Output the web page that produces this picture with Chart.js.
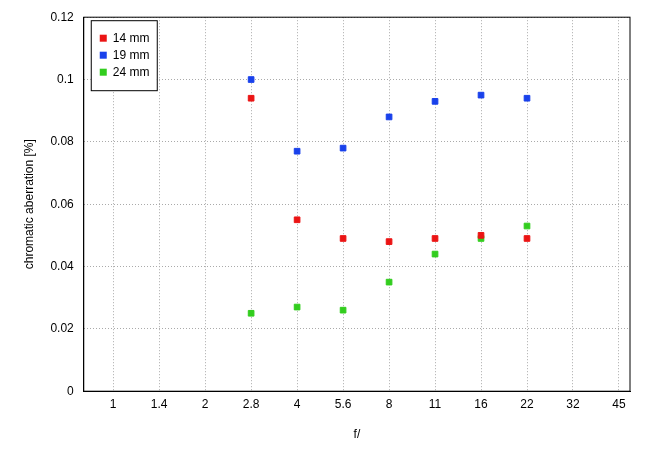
<!DOCTYPE html>
<html><head><script src="https://cdn.jsdelivr.net/npm/chart.js@4"></script>
<style>body{margin:0;background:#fff}#w{width:650px;height:450px}</style></head>
<body><div id="w"><canvas id="c"></canvas></div>
<script>
const categories=["1","1.4","2","2.8","4","5.6","8","11","16","22","32","45"];
const used=[3,4,5,6,7,8,9];
const s14=[0.094,0.055,0.049,0.048,0.049,0.050,0.049];
const s19=[0.100,0.077,0.078,0.088,0.093,0.095,0.094];
const s24=[0.025,0.027,0.026,0.035,0.044,0.049,0.053];
const names=["14 mm","19 mm","24 mm"];
const colors=["rgb(235,20,20)","rgb(25,65,235)","rgb(50,205,30)"];
const mk=v=>v.map((y,i)=>({x:used[i],y}));
const font={family:"Liberation Sans, Arial, sans-serif",size:12};
const legendPlugin={id:'lg',afterDraw(ch){const c=ch.ctx,a=ch.chartArea;c.save();
 const x=a.left+7,y=a.top+3;c.fillStyle='#fff';c.fillRect(x,y,66,70);c.strokeStyle='#000';c.lineWidth=1;c.strokeRect(x+.5,y+.5,66,70);
 c.font="12px Liberation Sans, Arial";c.textBaseline='middle';
 ch.data.datasets.forEach((d,i)=>{const yy=y+18+i*17;c.fillStyle=d.backgroundColor;c.fillRect(x+9,yy-3.5,7,7);c.fillStyle='#000';c.fillText(d.label,x+22,yy);});
 c.restore();}};
new Chart(document.getElementById('c'),{type:'scatter',
data:{datasets:[0,1,2].map(i=>({label:names[i],data:mk([s14,s19,s24][i]),backgroundColor:colors[i],borderColor:colors[i],pointStyle:'rect',pointRadius:4,pointHoverRadius:4}))},
options:{animation:false,responsive:true,maintainAspectRatio:false,
layout:{padding:{top:15,right:20,left:18,bottom:4}},
plugins:{legend:{display:false},tooltip:{enabled:false}},
scales:{
x:{type:'linear',min:-0.64,max:11.24,
 afterBuildTicks(ax){ax.ticks=categories.map((_,i)=>({value:i}));},
 ticks:{font,color:'#000',padding:6,callback:v=>categories[v]},
 grid:{color:'#aaa',drawTicks:false},
 border:{color:'#000',display:true,dash:[1,2]},
 title:{display:true,text:'f/',font,color:'#000',padding:{top:10}}},
y:{min:0,max:0.12,
 afterBuildTicks(ax){ax.ticks=[0,0.02,0.04,0.06,0.08,0.1,0.12].map(v=>({value:v}));},
 ticks:{font,color:'#000',padding:10,callback:v=>String(+v.toFixed(2))},
 grid:{color:'#aaa',drawTicks:false},
 border:{color:'#000',dash:[1,2]},
 title:{display:true,text:'chromatic aberration [%]',font,color:'#000'}}}},
plugins:[legendPlugin,{id:'frame',afterDraw(ch){const c=ch.ctx,a=ch.chartArea;c.save();c.strokeStyle='#000';c.lineWidth=1;c.strokeRect(a.left,a.top,a.right-a.left,a.bottom-a.top);c.restore();}}]
});
</script></body></html>
